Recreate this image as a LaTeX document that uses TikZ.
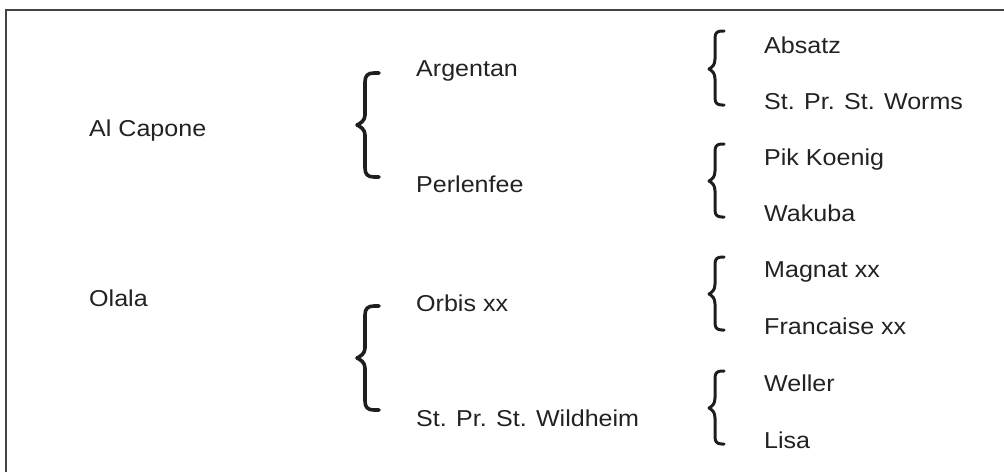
\documentclass[tikz,border=0pt]{standalone}
\usepackage{fontspec}
\setmainfont{Liberation Sans}
\definecolor{framecol}{HTML}{444444}
\definecolor{inkcol}{HTML}{1E1E1E}
\definecolor{textcol}{HTML}{222222}
\newcommand\cbrace[8]{% width radius xl xv xr yt ym yb
  \draw[bracestyle, line width=#1] (#5,#6) -- ({#4+#2},#6) .. controls ({#4+0.3*#2},#6) and (#4,{#6+0.3*#2}) .. (#4,{#6+#2})
    -- (#4,{#7-10}) .. controls (#4,{#7-4}) and ({#3+3},{#7-1.5}) .. (#3,#7)
    .. controls ({#3+3},{#7+1.5}) and (#4,{#7+4}) .. (#4,{#7+10})
    -- (#4,{#8-#2}) .. controls (#4,{#8-0.3*#2}) and ({#4+0.3*#2},#8) .. ({#4+#2},#8) -- (#5,#8);}
\newcommand\wtxt[1]{\scalebox{1.09}[1]{#1}}
\tikzset{
  lbl/.style={anchor=base west, inner sep=0pt, text=textcol, font=\fontsize{23}{27}\selectfont},
  bracestyle/.style={draw=inkcol, line cap=round, line join=round},
  framestyle/.style={draw=framecol, line width=2pt}
}
\begin{document}
\begin{tikzpicture}[x=1pt,y=-1pt]
\useasboundingbox (0,0) rectangle (1004,472);
\coordinate (fb) at (6,472);
\coordinate (ft) at (6,10);
\coordinate (fr) at (1004,10);
\draw[framestyle] (fb) -- (ft) -- (fr);
% level 1
\node[lbl] (alc) at (89,136) {\wtxt{Al Capone}};
\node[lbl] (ola) at (89,306) {\wtxt{Olala}};
% level 2
\node[lbl] (arg) at (416,76) {\wtxt{Argentan}};
\node[lbl] (per) at (416,192) {\wtxt{Perlenfee}};
\node[lbl] (orb) at (416,311) {\wtxt{Orbis xx}};
\node[lbl] (wil) at (416,426) {\wtxt{St. Pr. St. Wildheim}};
% level 3
\node[lbl] (abs) at (764,53) {\wtxt{Absatz}};
\node[lbl] (wor) at (764,109) {\wtxt{St. Pr. St. Worms}};
\node[lbl] (pik) at (764,165) {\wtxt{Pik Koenig}};
\node[lbl] (wak) at (764,221) {\wtxt{Wakuba}};
\node[lbl] (mag) at (764,277) {\wtxt{Magnat xx}};
\node[lbl] (fra) at (764,334) {\wtxt{Francaise xx}};
\node[lbl] (wel) at (764,391) {\wtxt{Weller}};
\node[lbl] (lis) at (764,448) {\wtxt{Lisa}};
% braces
\cbrace{3.6pt}{9}{357}{365}{379}{73}{125}{177}
\cbrace{3.6pt}{9}{357}{365}{379}{306}{358}{410}
\cbrace{3pt}{7}{709}{715}{724}{31}{69}{105}
\cbrace{3pt}{7}{709}{715}{724}{144}{181}{217}
\cbrace{3pt}{7}{709}{715}{724}{257}{294}{330}
\cbrace{3pt}{7}{709}{715}{724}{371}{408}{444}
\end{tikzpicture}
\end{document}
